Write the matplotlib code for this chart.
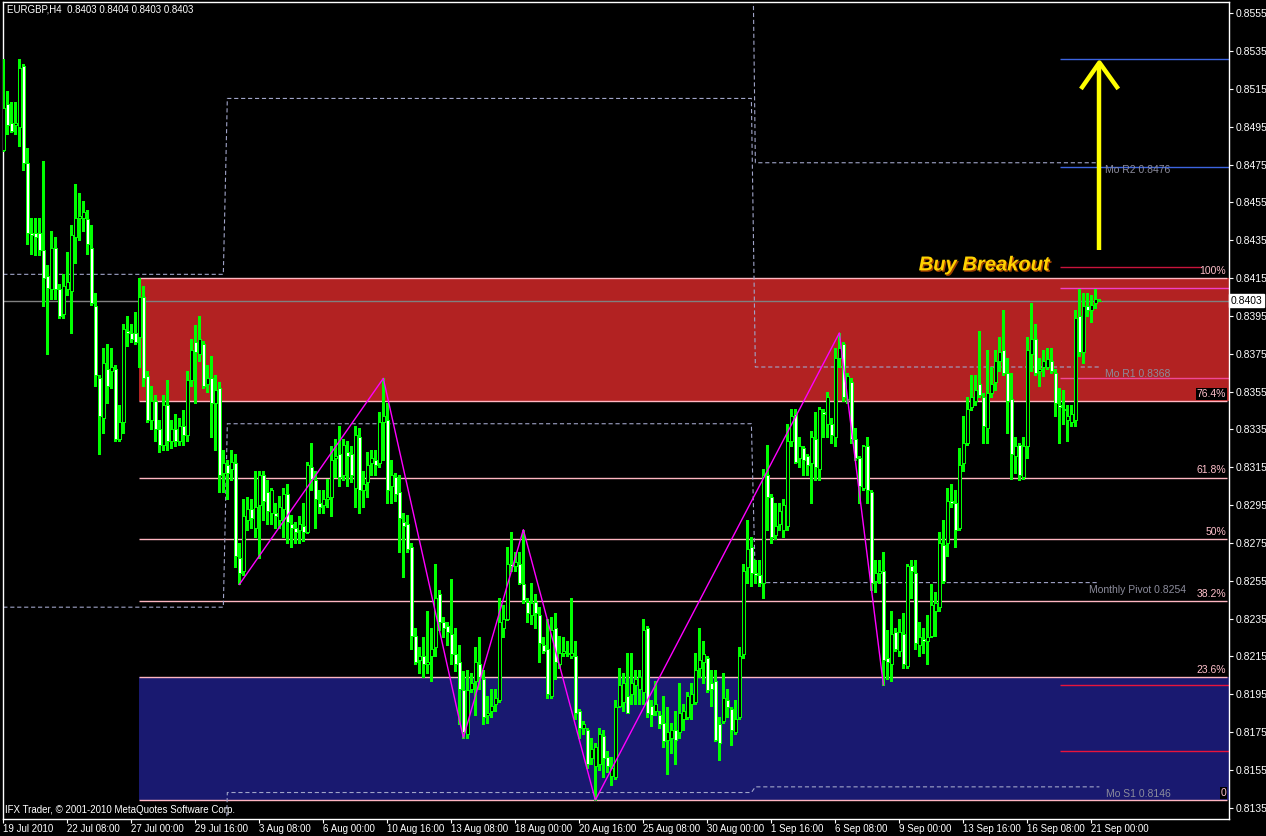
import numpy as np
import matplotlib
matplotlib.use("Agg")
import matplotlib.pyplot as plt
import matplotlib.patheffects as pe
from matplotlib.transforms import blended_transform_factory

plt.rcParams['font.family'] = ['Liberation Sans', 'DejaVu Sans']
plt.rcParams['lines.scale_dashes'] = False

# EURGBP H4 candles in pips (price * 10000), bar 0 = 19 Jul 2010 16:00
opens = [
    8483, 8507, 8497, 8496, 8495, 8527, 8476, 8439, 8439, 8439,
    8430, 8416, 8409, 8431, 8409, 8396, 8409, 8408, 8437, 8447,
    8447, 8446, 8431, 8400, 8362, 8341, 8367, 8366, 8367, 8330,
    8339, 8387, 8386, 8386, 8384, 8405, 8363, 8340, 8350, 8335,
    8327, 8348, 8329, 8335, 8329, 8337, 8332, 8361, 8381, 8375,
    8380, 8359, 8362, 8349, 8357, 8312, 8316, 8314, 8317, 8267,
    8260, 8287, 8293, 8283, 8295, 8311, 8302, 8291, 8291, 8287,
    8293, 8301, 8285, 8283, 8282, 8284, 8281, 8315, 8308, 8296,
    8295, 8298, 8299, 8320, 8322, 8311, 8323, 8322, 8304, 8331,
    8303, 8307, 8317, 8319, 8317, 8339, 8340, 8305, 8310, 8302,
    8286, 8285, 8273, 8226, 8213, 8215, 8211, 8215, 8220, 8248,
    8233, 8231, 8227, 8216, 8212, 8197, 8174, 8198, 8202, 8211,
    8203, 8184, 8186, 8190, 8192, 8230, 8235, 8264, 8263, 8264,
    8253, 8244, 8237, 8244, 8237, 8221, 8219, 8194, 8230, 8211,
    8217, 8217, 8215, 8215, 8186, 8177, 8176, 8161, 8157, 8158,
    8173, 8162, 8152, 8151, 8189, 8191, 8194, 8195, 8200, 8198,
    8196, 8230, 8189, 8186, 8184, 8180, 8171, 8172, 8176, 8175,
    8182, 8183, 8190, 8191, 8209, 8212, 8214, 8201, 8202, 8179,
    8181, 8192, 8187, 8175, 8183, 8216, 8262, 8273, 8259, 8258,
    8254, 8311, 8299, 8279, 8285, 8282, 8284, 8329, 8343, 8320,
    8325, 8321, 8317, 8330, 8314, 8344, 8338, 8338, 8331, 8373,
    8380, 8351, 8360, 8330, 8320, 8304, 8326, 8302, 8255, 8259,
    8260, 8214, 8211, 8228, 8218, 8227, 8210, 8263, 8259, 8221,
    8224, 8223, 8226, 8239, 8241, 8274, 8275, 8297, 8296, 8283,
    8317, 8328, 8347, 8350, 8359, 8352, 8336, 8354, 8360, 8371,
    8377, 8365, 8351, 8321, 8327, 8310, 8326, 8375, 8383, 8366,
    8368, 8368, 8371, 8365, 8348, 8346, 8340, 8339, 8340, 8395,
    8376, 8400, 8398, 8402, 8403,
]
highs = [
    8531, 8514, 8508, 8508, 8531, 8528, 8484, 8447, 8447, 8447,
    8477, 8422, 8440, 8437, 8412, 8417, 8429, 8443, 8465, 8460,
    8456, 8451, 8443, 8407, 8364, 8378, 8380, 8378, 8369, 8348,
    8391, 8395, 8391, 8397, 8415, 8411, 8366, 8358, 8353, 8340,
    8353, 8361, 8340, 8343, 8341, 8345, 8366, 8383, 8390, 8395,
    8382, 8369, 8374, 8364, 8360, 8324, 8319, 8324, 8322, 8275,
    8298, 8299, 8298, 8313, 8313, 8313, 8308, 8304, 8296, 8300,
    8304, 8306, 8290, 8286, 8289, 8296, 8318, 8328, 8313, 8303,
    8303, 8309, 8326, 8330, 8337, 8330, 8329, 8326, 8337, 8336,
    8313, 8323, 8324, 8324, 8344, 8362, 8349, 8319, 8312, 8311,
    8291, 8290, 8275, 8230, 8220, 8225, 8239, 8230, 8264, 8250,
    8236, 8233, 8256, 8230, 8221, 8207, 8208, 8206, 8220, 8225,
    8208, 8194, 8198, 8198, 8246, 8242, 8273, 8281, 8270, 8270,
    8282, 8246, 8254, 8248, 8241, 8225, 8235, 8236, 8238, 8226,
    8225, 8223, 8246, 8223, 8187, 8181, 8177, 8172, 8169, 8177,
    8176, 8165, 8162, 8192, 8209, 8206, 8217, 8217, 8208, 8208,
    8235, 8231, 8192, 8202, 8186, 8194, 8188, 8180, 8186, 8201,
    8190, 8196, 8201, 8217, 8230, 8223, 8215, 8208, 8208, 8183,
    8206, 8198, 8188, 8192, 8220, 8264, 8287, 8278, 8266, 8266,
    8314, 8327, 8301, 8296, 8296, 8298, 8338, 8346, 8346, 8331,
    8326, 8322, 8334, 8344, 8347, 8346, 8355, 8341, 8378, 8386,
    8381, 8365, 8362, 8336, 8321, 8327, 8331, 8303, 8266, 8266,
    8270, 8229, 8239, 8230, 8235, 8238, 8264, 8266, 8266, 8233,
    8230, 8237, 8253, 8249, 8281, 8287, 8304, 8306, 8303, 8325,
    8342, 8352, 8364, 8364, 8387, 8354, 8377, 8368, 8377, 8384,
    8398, 8373, 8365, 8331, 8328, 8331, 8384, 8402, 8391, 8373,
    8377, 8378, 8378, 8367, 8357, 8356, 8348, 8348, 8398, 8409,
    8407, 8407, 8406, 8409, 8404,
]
lows = [
    8482, 8491, 8492, 8491, 8485, 8472, 8433, 8428, 8427, 8427,
    8400, 8375, 8404, 8404, 8394, 8394, 8406, 8386, 8423, 8435,
    8440, 8428, 8401, 8358, 8322, 8333, 8349, 8357, 8329, 8329,
    8333, 8379, 8381, 8380, 8368, 8358, 8339, 8335, 8329, 8323,
    8324, 8324, 8325, 8326, 8327, 8327, 8329, 8358, 8349, 8371,
    8357, 8355, 8331, 8324, 8302, 8302, 8298, 8308, 8262, 8253,
    8258, 8282, 8283, 8278, 8267, 8287, 8285, 8285, 8283, 8283,
    8278, 8275, 8273, 8275, 8275, 8276, 8280, 8303, 8283, 8291,
    8291, 8294, 8289, 8310, 8305, 8308, 8305, 8307, 8294, 8291,
    8294, 8299, 8311, 8311, 8315, 8319, 8296, 8296, 8297, 8270,
    8257, 8270, 8219, 8211, 8206, 8204, 8206, 8202, 8215, 8229,
    8225, 8221, 8211, 8207, 8179, 8172, 8172, 8196, 8184, 8198,
    8179, 8180, 8183, 8186, 8191, 8225, 8234, 8260, 8260, 8253,
    8243, 8233, 8232, 8230, 8212, 8217, 8193, 8193, 8203, 8209,
    8215, 8215, 8214, 8182, 8172, 8174, 8156, 8158, 8139, 8155,
    8151, 8154, 8147, 8150, 8188, 8186, 8185, 8190, 8190, 8190,
    8190, 8183, 8178, 8184, 8177, 8167, 8153, 8164, 8158, 8172,
    8176, 8182, 8182, 8190, 8204, 8201, 8196, 8189, 8170, 8160,
    8180, 8183, 8168, 8174, 8182, 8214, 8254, 8252, 8254, 8252,
    8246, 8282, 8275, 8277, 8282, 8278, 8282, 8326, 8317, 8315,
    8311, 8311, 8296, 8308, 8308, 8331, 8331, 8328, 8326, 8368,
    8350, 8349, 8328, 8319, 8296, 8303, 8296, 8250, 8249, 8254,
    8200, 8203, 8202, 8218, 8215, 8209, 8209, 8246, 8219, 8215,
    8217, 8211, 8225, 8226, 8239, 8254, 8268, 8294, 8273, 8282,
    8313, 8327, 8345, 8348, 8352, 8328, 8328, 8352, 8356, 8366,
    8364, 8333, 8309, 8312, 8308, 8309, 8320, 8366, 8364, 8358,
    8363, 8367, 8365, 8342, 8328, 8338, 8329, 8337, 8337, 8374,
    8370, 8395, 8392, 8399, 8403,
]
closes = [
    8505, 8496, 8493, 8497, 8526, 8476, 8439, 8438, 8437, 8430,
    8415, 8410, 8431, 8409, 8395, 8411, 8413, 8438, 8447, 8448,
    8450, 8433, 8402, 8364, 8342, 8370, 8358, 8368, 8330, 8339,
    8388, 8386, 8383, 8381, 8405, 8362, 8340, 8350, 8335, 8327,
    8348, 8329, 8335, 8329, 8337, 8332, 8361, 8377, 8376, 8383,
    8358, 8362, 8349, 8356, 8311, 8317, 8312, 8318, 8268, 8259,
    8289, 8293, 8288, 8294, 8311, 8297, 8292, 8303, 8289, 8294,
    8301, 8286, 8283, 8281, 8285, 8281, 8316, 8309, 8298, 8294,
    8298, 8299, 8319, 8321, 8310, 8327, 8321, 8311, 8332, 8303,
    8306, 8316, 8320, 8316, 8339, 8342, 8303, 8311, 8301, 8288,
    8284, 8272, 8226, 8212, 8215, 8211, 8212, 8219, 8246, 8233,
    8230, 8228, 8216, 8211, 8198, 8175, 8197, 8201, 8212, 8204,
    8183, 8185, 8189, 8193, 8233, 8235, 8264, 8263, 8265, 8254,
    8245, 8238, 8243, 8238, 8222, 8218, 8195, 8229, 8212, 8217,
    8218, 8216, 8217, 8185, 8177, 8179, 8158, 8166, 8167, 8174,
    8161, 8157, 8156, 8188, 8200, 8201, 8185, 8201, 8203, 8204,
    8229, 8185, 8184, 8190, 8179, 8170, 8175, 8176, 8171, 8185,
    8186, 8194, 8195, 8208, 8213, 8216, 8197, 8198, 8171, 8169,
    8193, 8188, 8176, 8182, 8215, 8260, 8272, 8259, 8258, 8254,
    8311, 8299, 8278, 8284, 8292, 8295, 8329, 8342, 8318, 8326,
    8319, 8316, 8331, 8315, 8346, 8343, 8352, 8332, 8373, 8378,
    8352, 8363, 8330, 8320, 8305, 8326, 8303, 8254, 8259, 8260,
    8213, 8212, 8227, 8219, 8228, 8211, 8263, 8260, 8222, 8225,
    8223, 8225, 8242, 8243, 8275, 8255, 8297, 8296, 8282, 8316,
    8328, 8346, 8352, 8356, 8353, 8337, 8354, 8359, 8371, 8376,
    8365, 8350, 8322, 8326, 8311, 8326, 8377, 8383, 8365, 8367,
    8371, 8372, 8366, 8349, 8347, 8345, 8342, 8343, 8394, 8376,
    8400, 8398, 8401, 8404, 8403,
]

date_bars = [0, 16, 32, 48, 64, 80, 96, 112, 128, 144, 160, 176, 192, 208, 224, 240, 256, 272]
date_labels = ['19 Jul 2010', '22 Jul 08:00', '27 Jul 00:00', '29 Jul 16:00', '3 Aug 08:00',
               '6 Aug 00:00', '10 Aug 16:00', '13 Aug 08:00', '18 Aug 00:00', '20 Aug 16:00',
               '25 Aug 08:00', '30 Aug 00:00', '1 Sep 16:00', '6 Sep 08:00', '9 Sep 00:00',
               '13 Sep 16:00', '16 Sep 08:00', '21 Sep 00:00']
price_ticks = ['0.8135', '0.8155', '0.8175', '0.8195', '0.8215', '0.8235', '0.8255', '0.8275',
               '0.8295', '0.8315', '0.8335', '0.8355', '0.8375', '0.8395', '0.8415', '0.8435',
               '0.8455', '0.8475', '0.8495', '0.8515', '0.8535', '0.8555']

# monthly pivot levels for Jul, Aug, Sep (first bar of each month)
month_start = [0, 56, 188]
piv_r2 = [0.8600, 0.8650, 0.8476]
piv_r1 = [0.8417, 0.8510, 0.8368]
piv_p = [0.8241, 0.8338, 0.8254]
piv_s1 = [0.8050, 0.8143, 0.8146]
piv_text = ['Mo R2 0.8476', 'Mo R1 0.8368', 'Monthly Pivot 0.8254', 'Mo S1 0.8146']
piv_text_bar = [275.5, 275.5, 271.5, 275.7]

# fibo retracement from bar 34 high to bar 148 low
fib_hi_bar, fib_lo_bar = 34, 148
fib_levels = [0.0, 0.236, 0.382, 0.5, 0.618, 0.764, 1.0]
fib_labels = ['0', '23.6%', '38.2%', '50%', '61.8%', '76.4%', '100%']

# zigzag turning points
zig_bars = [59, 95, 115, 130, 148, 209, 220]
zig_kind = ['L', 'H', 'L', 'H', 'L', 'H', 'L']

# hand drawn lines on the right side
blue_lines = [0.8531, 0.8474]
red_lines = [0.8200, 0.8165]
magenta_line = 0.8410
pink_line = 0.8362
crimson_line = 0.8421
arrow_bottom, arrow_top, arrow_wing = 0.8430, 0.8529, 0.8516

o = np.array(opens) / 1e4
h = np.array(highs) / 1e4
l = np.array(lows) / 1e4
c = np.array(closes) / 1e4
x = np.arange(len(o))

fig = plt.figure(figsize=(12.66, 8.36), dpi=100, facecolor='black')
ax = fig.add_axes([2.7 / 1266, 17 / 836, 1226.3 / 1266, 817 / 836])
ax.set_facecolor('black')
x_right = 306.4
ax.set_xlim(-0.15, x_right)
ax.set_ylim(0.81290, 0.85610)

# fibo zones and levels
fib_hi = h[fib_hi_bar]
fib_lo = l[fib_lo_bar]
fib_price = [fib_lo + f * (fib_hi - fib_lo) for f in fib_levels]
ax.fill_between([fib_hi_bar, x_right], fib_price[5], fib_price[6], color='#b22222', lw=0, zorder=0)
ax.fill_between([fib_hi_bar, x_right], fib_price[0], fib_price[1], color='#191970', lw=0, zorder=0)
ax.hlines(fib_price, fib_hi_bar, x_right - 0.5, color='#ffb6c1', lw=1, zorder=1)
for lbl, p in zip(fib_labels, fib_price):
    bg = dict(fc='black', ec='none', pad=0.6) if lbl in ('0', '76.4%') else None
    ax.annotate(lbl, (x_right - 0.7, p), xytext=(0, 1.5), textcoords='offset points',
                ha='right', va='bottom', color='#ffc0cb', fontsize=7.5, bbox=bg, zorder=6)

# monthly pivots (step lines)
idx = np.searchsorted(month_start, x, side='right') - 1
for lev in (piv_r2, piv_r1, piv_p, piv_s1):
    ax.plot(x, np.array(lev)[idx], color='#a0a4c8', lw=0.8, dashes=(3, 2), zorder=2)
for txt, lev, tb in zip(piv_text, (piv_r2, piv_r1, piv_p, piv_s1), piv_text_bar):
    ax.annotate(txt, (tb, lev[-1]), xytext=(0, -1.5), textcoords='offset points',
                ha='left', va='top', color='#8c8c9c', fontsize=7.5, zorder=6)

# right-side lines
ax.axhline(c[-1], color='#808080', lw=1, zorder=2)
ax.hlines(blue_lines, 264.2, x_right, color='#3c64e0', lw=1, zorder=2)
ax.hlines(red_lines, 264.2, x_right, color='#e8143c', lw=1, zorder=2)
ax.hlines(magenta_line, 264.2, x_right, color='#f040c8', lw=1, zorder=2)
ax.hlines(pink_line, 264.2, x_right, color='#f04898', lw=1, zorder=2)
ax.hlines(crimson_line, 264.2, 299.5, color='#c8143c', lw=1, zorder=2)

# candles: bull = black body, bear = white body, lime outline
bull = c >= o
ax.vlines(x, l, h, color='#00ff00', lw=0.8, zorder=3, antialiased=False)
ax.bar(x[bull], (c - o)[bull], bottom=o[bull], width=0.8, color='black',
       edgecolor='#00ff00', lw=0.72, zorder=4, antialiased=False)
ax.bar(x[~bull], (o - c)[~bull], bottom=c[~bull], width=0.8, color='white',
       edgecolor='#00ff00', lw=0.72, zorder=4, antialiased=False)

# zigzag
zig_y = [l[b] if k == 'L' else h[b] for b, k in zip(zig_bars, zig_kind)]
ax.plot(zig_bars, zig_y, color='#ff00ff', lw=1, zorder=5)

# breakout arrow and text
ax.plot([274, 274], [arrow_bottom, arrow_top], color='yellow', lw=3.2, zorder=6, solid_capstyle='butt')
ax.plot([269.7, 274, 278.4], [arrow_wing, arrow_top, arrow_wing], color='yellow', lw=3.2, zorder=6)
ax.text(245.2, 0.8422, 'Buy Breakout', color='#ffd200', fontsize=14.5, fontweight='bold',
        fontstyle='italic', ha='center', va='center', zorder=7,
        path_effects=[pe.withSimplePatchShadow(offset=(1, -1), shadow_rgbFace='#a04000', alpha=1)])

# axes styling
for s in ax.spines.values():
    s.set_color('white')
    s.set_linewidth(1)
ax.yaxis.tick_right()
ax.set_yticks([float(t) for t in price_ticks])
ax.set_yticklabels(price_ticks)
ax.tick_params(axis='y', colors='white', labelsize=7.5, length=3, pad=2)
ax.set_xticks(date_bars)
ax.set_xticklabels(date_labels, ha='left')
ax.tick_params(axis='x', colors='white', labelsize=7, length=3, pad=0.5)

trans = blended_transform_factory(ax.transAxes, ax.transData)
ax.text(1.0015, c[-1], f'{c[-1]:.4f}', transform=trans, ha='left', va='center', fontsize=7.5,
        color='black', bbox=dict(fc='white', ec='white', pad=1.2), zorder=8, clip_on=False)

fig.text(7 / 1266, 1 - 10 / 836,
         f'EURGBP,H4  {o[-1]:.4f} {h[-1]:.4f} {l[-1]:.4f} {c[-1]:.4f}',
         color='white', fontsize=7, va='center', ha='left')
fig.text(5 / 1266, 1 - 810 / 836, 'IFX Trader, \u00a9 2001-2010 MetaQuotes Software Corp.',
         color='white', fontsize=7, va='center', ha='left')

fig.savefig('out.png', dpi=100, facecolor='black')
